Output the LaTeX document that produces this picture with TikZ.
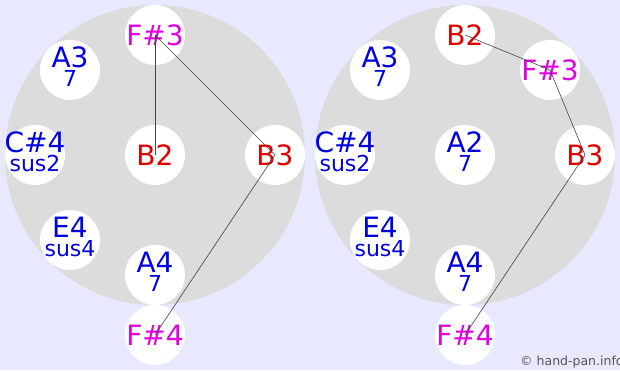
\documentclass[tikz,border=0pt]{standalone}
\usepackage{fontspec}
\setmainfont{DejaVu Sans}
\definecolor{bgc}{HTML}{E8E8FF}
\definecolor{panc}{HTML}{DCDCDC}
\definecolor{nblue}{HTML}{0000E0}
\definecolor{nred}{HTML}{E00000}
\definecolor{nmag}{HTML}{E000E0}
\definecolor{linec}{HTML}{444444}
\definecolor{copyc}{HTML}{555555}
\begin{document}
\begin{tikzpicture}[x=1pt,y=-1pt,
  pad/.style={circle,fill=white,minimum size=60pt,inner sep=0pt},
  main/.style={anchor=base,inner sep=0pt,font=\fontsize{28pt}{28pt}\selectfont},
  sub/.style={anchor=base,inner sep=0pt,font=\fontsize{22pt}{22pt}\selectfont},
  link/.style={draw=linec,line width=0.6pt}]
\useasboundingbox (0,0) rectangle (620,370);
\fill[bgc] (0,0) rectangle (620,370);
\fill[panc] (155,155) circle (150pt);
\fill[panc] (465,155) circle (150pt);
% left pan
\node[pad] (L-F3) at (155,35) {};
\node[pad] (L-A3) at (70,70) {};
\node[pad] (L-C4) at (35,155) {};
\node[pad] (L-B2) at (155,155) {};
\node[pad] (L-B3) at (275,155) {};
\node[pad] (L-E4) at (70,240) {};
\node[pad] (L-A4) at (155,275) {};
\node[pad] (L-F4) at (155,335) {};
% right pan
\node[pad] (R-B2) at (465,35) {};
\node[pad] (R-A3) at (380,70) {};
\node[pad] (R-F3) at (550,70) {};
\node[pad] (R-C4) at (345,155) {};
\node[pad] (R-A2) at (465,155) {};
\node[pad] (R-B3) at (585,155) {};
\node[pad] (R-E4) at (380,240) {};
\node[pad] (R-A4) at (465,275) {};
\node[pad] (R-F4) at (465,335) {};
% labels left
\node[main,text=nmag] (tL-F3) at (155,45.5) {F\#3};
\node[main,text=nblue] (tL-A3) at (70,67) {A3};
\node[sub,text=nblue] (sL-A3) at (70,86.5) {7};
\node[main,text=nblue] (tL-C4) at (35,152) {C\#4};
\node[sub,text=nblue] (sL-C4) at (35,171.5) {sus2};
\node[main,text=nred] (tL-B2) at (155,165.5) {B2};
\node[main,text=nred] (tL-B3) at (275,165.5) {B3};
\node[main,text=nblue] (tL-E4) at (70,237) {E4};
\node[sub,text=nblue] (sL-E4) at (70,256.5) {sus4};
\node[main,text=nblue] (tL-A4) at (155,272) {A4};
\node[sub,text=nblue] (sL-A4) at (155,291.5) {7};
\node[main,text=nmag] (tL-F4) at (155,345.5) {F\#4};
% labels right
\node[main,text=nred] (tR-B2) at (465,45.5) {B2};
\node[main,text=nblue] (tR-A3) at (380,67) {A3};
\node[sub,text=nblue] (sR-A3) at (380,86.5) {7};
\node[main,text=nmag] (tR-F3) at (550,80.5) {F\#3};
\node[main,text=nblue] (tR-C4) at (345,152) {C\#4};
\node[sub,text=nblue] (sR-C4) at (345,171.5) {sus2};
\node[main,text=nblue] (tR-A2) at (465,152) {A2};
\node[sub,text=nblue] (sR-A2) at (465,171.5) {7};
\node[main,text=nred] (tR-B3) at (585,165.5) {B3};
\node[main,text=nblue] (tR-E4) at (380,237) {E4};
\node[sub,text=nblue] (sR-E4) at (380,256.5) {sus4};
\node[main,text=nblue] (tR-A4) at (465,272) {A4};
\node[sub,text=nblue] (sR-A4) at (465,291.5) {7};
\node[main,text=nmag] (tR-F4) at (465,345.5) {F\#4};
% connectors
\draw[link] (L-F3.center) -- (L-B2.center);
\draw[link] (L-F3.center) -- (L-B3.center) -- (L-F4.center);
\draw[link] (R-B2.center) -- (R-F3.center) -- (R-B3.center) -- (R-F4.center);
% copyright
\node[anchor=base west,inner sep=0pt,text=copyc,font=\fontsize{12.5pt}{12.5pt}\selectfont] (copy) at (520,365) {© hand-pan.info};
\end{tikzpicture}
\end{document}
